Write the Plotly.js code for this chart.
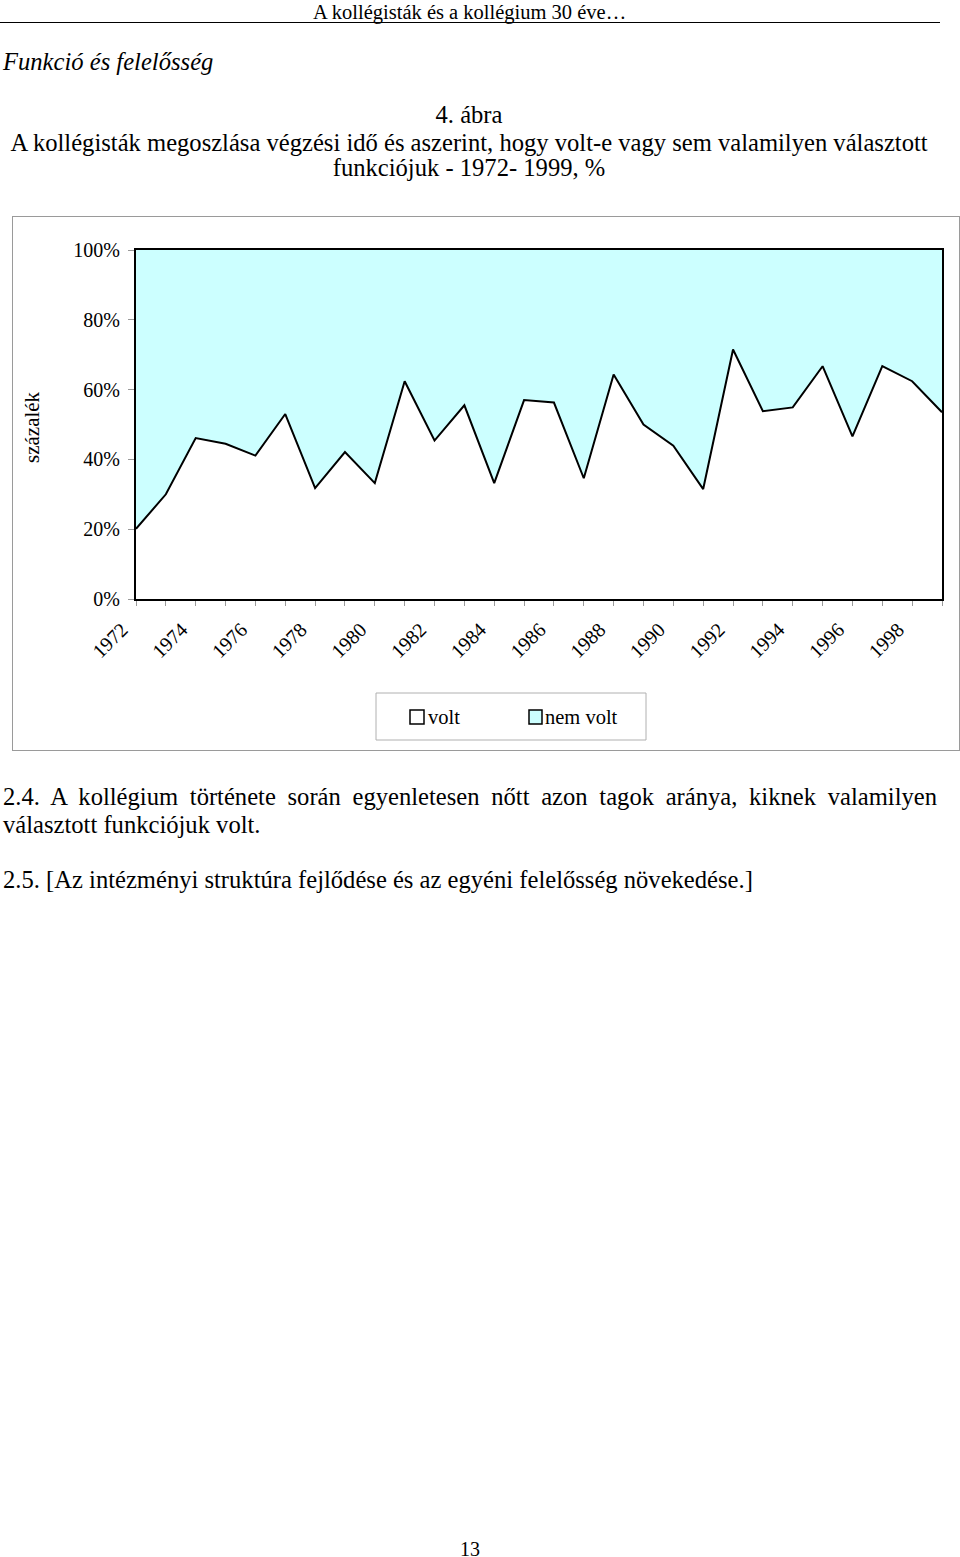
<!DOCTYPE html>
<html>
<head>
<meta charset="utf-8">
<script src="https://cdn.plot.ly/plotly-3.0.1.min.js"></script>
<style>
  html, body { margin:0; padding:0; background:#fff; }
  body { width:960px; height:1557px; position:relative; overflow:hidden;
         font-family:"Liberation Serif","Times New Roman",serif; color:#000; }
  .t { position:absolute; white-space:nowrap; }
  #frame { position:absolute; left:12px; top:216px; width:948px; height:535px;
           box-sizing:border-box; border:1px solid #9a9a9a; }
  #chart { position:absolute; left:0; top:0; width:946px; height:533px; }
</style>
</head>
<body>
<div class="t" style="left:313px; top:0px; font-size:20.5px; line-height:24px;">A kollégisták és a kollégium 30 éve…</div>
<div style="position:absolute; left:0; top:22px; width:940px; height:0; border-top:1.5px solid #000;"></div>
<div class="t" style="left:3px; top:48px; font-size:24.6px; line-height:28px; font-style:italic;">Funkció és felelősség</div>
<div class="t" style="left:0; width:938px; text-align:center; top:101px; font-size:24.6px; line-height:28px;">4. ábra</div>
<div class="t" style="left:0; width:938px; text-align:center; top:129px; font-size:24.6px; line-height:28px;">A kollégisták megoszlása végzési idő és aszerint, hogy volt-e vagy sem valamilyen választott</div>
<div class="t" style="left:0; width:938px; text-align:center; top:154px; font-size:24.6px; line-height:28px;">funkciójuk - 1972- 1999, %</div>

<div id="frame"><div id="chart"></div></div>

<div style="position:absolute; left:3px; top:783px; width:934px; font-size:24.6px; line-height:28px; text-align:justify; text-align-last:justify; white-space:nowrap;">2.4. A kollégium története során egyenletesen nőtt azon tagok aránya, kiknek valamilyen</div>
<div class="t" style="left:3px; top:811px; font-size:24.6px; line-height:28px;">választott funkciójuk volt.</div>
<div class="t" style="left:3px; top:866px; font-size:24.6px; line-height:28px;">2.5. [Az intézményi struktúra fejlődése és az egyéni felelősség növekedése.]</div>
<div class="t" style="left:0; width:940px; text-align:center; top:1537px; font-size:20px; line-height:24px;">13</div>

<script>
// ---- data ----
var years = [1972,1973,1974,1975,1976,1977,1978,1979,1980,1981,1982,1983,1984,1985,
             1986,1987,1988,1989,1990,1991,1992,1993,1994,1995,1996,1997,1998,1999];
var volt = [20.1,30.0,46.1,44.5,41.1,53.0,31.8,42.1,33.2,62.4,45.4,55.5,33.2,57.0,
            56.3,34.6,64.3,50.0,43.9,31.5,71.5,53.8,54.9,66.7,46.6,66.7,62.4,53.5];
var nemVolt = [79.9,70.0,53.9,55.5,58.9,47.0,68.2,57.9,66.8,37.6,54.6,44.5,66.8,43.0,
               43.7,65.4,35.7,50.0,56.1,68.5,28.5,46.2,45.1,33.3,53.4,33.3,37.6,46.5];
var tickYears = [1972,1974,1976,1978,1980,1982,1984,1986,1988,1990,1992,1994,1996,1998];
var tickLabels = ['1972','1974','1976','1978','1980','1982','1984','1986','1988','1990','1992','1994','1996','1998'];
var seriesNames = ['volt','nem volt'];
var yAxisTitle = 'százalék';

// ---- layout geometry (pixels inside chart div) ----
var W = 946, H = 533, ML = 123, MR = 17, MT = 33, MB = 151;
var PW = W - ML - MR, PH = H - MT - MB;
function px(x) { return (x - ML) / PW; }
function py(y) { return (MT + PH - y) / PH; }

var FONT = '"Liberation Serif","Times New Roman",serif';
var CYAN = '#CCFFFF';

var traces = [
  { x: years, y: volt, name: seriesNames[0], type: 'scatter', mode: 'lines',
    stackgroup: 'one', fillcolor: '#FFFFFF', line: { color: '#000', width: 2 },
    showlegend: false, hoverinfo: 'skip' },
  { x: years, y: nemVolt, name: seriesNames[1], type: 'scatter', mode: 'lines',
    stackgroup: 'one', fillcolor: CYAN, line: { color: 'rgba(0,0,0,0)', width: 0 },
    showlegend: false, hoverinfo: 'skip' }
];

var shapes = [
  { type:'rect', xref:'paper', yref:'paper', x0:px(363), x1:px(633), y0:py(523), y1:py(476),
    line:{ color:'#b0b0b0', width:1 }, fillcolor:'rgba(0,0,0,0)', layer:'above' },
  { type:'rect', xref:'paper', yref:'paper', x0:px(397), x1:px(411), y0:py(507), y1:py(493),
    line:{ color:'#000', width:1.5 }, fillcolor:'#FFFFFF', layer:'above' },
  { type:'rect', xref:'paper', yref:'paper', x0:px(516), x1:px(529), y0:py(507), y1:py(493),
    line:{ color:'#000', width:1.5 }, fillcolor:CYAN, layer:'above' }
];

var annotations = [
  { xref:'paper', yref:'paper', x:px(19), y:py(210), text:yAxisTitle, textangle:-90,
    showarrow:false, font:{ family:FONT, size:21, color:'#000' }, xanchor:'center', yanchor:'middle' },
  { xref:'paper', yref:'paper', x:px(413), y:py(500), text:seriesNames[0], showarrow:false,
    xanchor:'left', yanchor:'middle', font:{ family:FONT, size:20.5, color:'#000' } },
  { xref:'paper', yref:'paper', x:px(530), y:py(500), text:seriesNames[1], showarrow:false,
    xanchor:'left', yanchor:'middle', font:{ family:FONT, size:20.5, color:'#000' } }
];

var layout = {
  width: W, height: H,
  margin: { l: ML, r: MR, t: MT, b: MB, pad: 0 },
  paper_bgcolor: '#FFFFFF', plot_bgcolor: '#FFFFFF',
  showlegend: false,
  font: { family: FONT, size: 20, color: '#000' },
  xaxis: {
    type: 'linear', range: [1972, 1999], fixedrange: true,
    tickmode: 'array', tickvals: tickYears, ticktext: tickLabels,
    tickangle: -45, ticks: 'outside', ticklen: 5, tickcolor: '#999', tickwidth: 1,
    ticklabelshift: -14, ticklabelstandoff: 4,
    minor: { tickmode: 'array', tickvals: years, ticks: 'outside', ticklen: 5, tickcolor: '#999', tickwidth: 1, showgrid: false },
    tickfont: { family: FONT, size: 20, color: '#000' },
    showline: true, linecolor: '#000', linewidth: 2, mirror: true,
    showgrid: false, zeroline: false
  },
  yaxis: {
    range: [0, 100], fixedrange: true, dtick: 20, tick0: 0, ticksuffix: '%',
    ticks: 'outside', ticklen: 6, tickcolor: '#999', tickwidth: 1,
    ticklabelstandoff: 4,
    tickfont: { family: FONT, size: 20, color: '#000' },
    showline: true, linecolor: '#000', linewidth: 2, mirror: true,
    showgrid: false, zeroline: false
  },
  shapes: shapes,
  annotations: annotations
};

Plotly.newPlot('chart', traces, layout, { displayModeBar: false, staticPlot: true });
</script>
</body>
</html>
